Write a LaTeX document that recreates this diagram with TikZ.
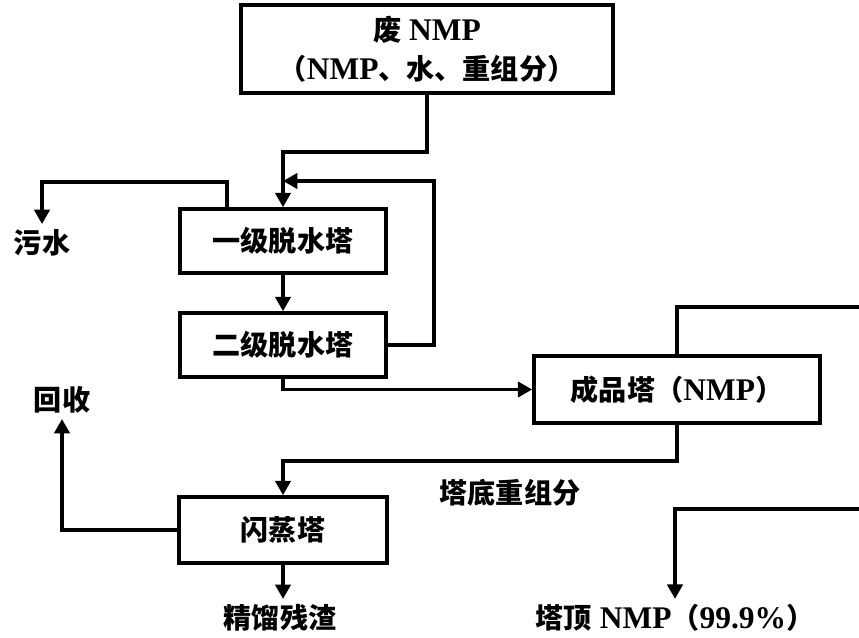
\documentclass[tikz,border=0pt]{standalone}
\usepackage{fontspec}
\setmainfont{Liberation Serif}[Scale=1.12]
\newfontfamily\cjk{Noto Sans CJK SC}
\newcommand{\zh}[1]{{\cjk #1}}
\usepackage{tikz}
\usetikzlibrary{arrows.meta,positioning,calc}

\tikzset{
  tour/.style={draw, line width=2.5pt, minimum width=#1, inner sep=0pt},
  tour/.default=5.15cm,
  flux/.style={line width=2.5pt, -{Triangle[length=0.36cm,width=0.38cm]}},
  tube/.style={line width=2.5pt},
  txt/.style={font=\bfseries\fontsize{20}{28}\selectfont}
}

\begin{document}
\begin{tikzpicture}[x=0.025cm, y=-0.025cm, txt]
\useasboundingbox (0,0) rectangle (859,637);

% colonnes
\node[tour=9.3cm, minimum height=2.2cm, align=center] (feed) at (427,49) {\zh{废} NMP\\\zh{（}NMP\zh{、水、重组分）}};
\node[tour, minimum height=1.6cm] (d1) at (283,241) {\zh{一级脱水塔}};
\node[tour, minimum height=1.6cm] (d2) at (283,345) {\zh{二级脱水塔}};
\node[tour=7.15cm, minimum height=1.68cm] (prod) at (677,389.5) {\zh{成品塔（}NMP\zh{）}};
\node[tour=5.2cm, minimum height=1.65cm] (flash) at (283,530) {\zh{闪蒸塔}};

% sorties
\node (waste) at (42,243) {\zh{污水}};
\node (recover) at (62,400) {\zh{回收}};
\node (residue) at (280,618) {\zh{精馏残渣}};
\node (topprod) at (675,618) {\zh{塔顶} NMP\zh{（}99.9\%\zh{）}};
\node (heavy) at (510,493) {\zh{塔底重组分}};

% points de passage
\coordinate (j1) at (283,152);
\coordinate (r1) at (434,181);
\coordinate (r2) at (283,181);
\coordinate (j2) at (283,461);
\coordinate (topout) at (859,307);
\coordinate (botin) at (859,509);

% liaisons
\draw[flux] (feed.south) |- (j1) -- (d1.north);
\draw[flux] (d2.east) -| (r1) -- (r2);
\draw[flux] ([xshift=-1.4cm]d1.north) -- ++(0,-25) -| (waste.north);
\draw[flux] (d1) -- (d2);
\draw[flux] (d2.south) |- (prod.west);
\draw[tube] (prod.north) |- (topout);
\draw[flux] (prod.south) |- (j2) -- (flash.north);
\draw[flux] (botin) -| (topprod.north);
\draw[flux] (flash.west) -| (recover.south);
\draw[flux] (flash.south) -- (flash.south |- residue.north);

\end{tikzpicture}
\end{document}
